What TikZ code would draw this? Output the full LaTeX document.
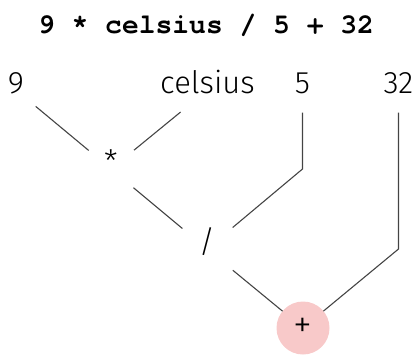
\documentclass[tikz,border=0pt]{standalone}
\usepackage{fontspec}
\setmainfont{Fira Sans Light}
\newfontfamily\titlefont{TeX Gyre Cursor}
\definecolor{edgegray}{HTML}{444444}
\definecolor{pinkfill}{HTML}{F8C9C9}
\begin{document}
\begin{tikzpicture}[x=1pt,y=-1pt,
  lbl/.style={inner sep=0pt,outer sep=0pt,font=\fontsize{31}{31}\selectfont,text height=0.7em,text depth=0pt,anchor=center},
  edge/.style={draw=edgegray,line width=1.1pt},
  opcircle/.style={circle,fill=pinkfill,minimum size=53pt,inner sep=0pt,outer sep=0pt,font=\fontsize{38}{38}\selectfont}]
\useasboundingbox (0,0) rectangle (417,354);
\node[font=\titlefont\bfseries\fontsize{28}{28}\selectfont,anchor=base] (title) at (206,33) {9 * celsius / 5 + 32};
\node[lbl] (n9) at (16,90) {9};
\node[lbl] (cel) at (207.5,90) {celsius};
\node[lbl] (n5) at (302.5,90) {5};
\node[lbl] (n32) at (398.5,90) {32};
\node[lbl] (mul) at (111,169) {*};
\node[lbl] (dvd) at (207,249) {/};
\node[opcircle] (pls) at (303,328) {+};
\coordinate (b5) at (n5.center |- mul.center);
\coordinate (b32) at (n32.center |- dvd.center);
\draw[edge,shorten <=25.6pt,shorten >=29pt] (n9.center) -- (mul.center);
\draw[edge,shorten <=34.8pt,shorten >=29.8pt] (cel.center) -- (mul.center);
\draw[edge,shorten <=29.2pt,shorten >=32pt] (mul.center) -- (dvd.center);
\draw[edge,shorten <=22.5pt,shorten >=33.4pt] (n5.center) -- (b5) -- (dvd.center);
\draw[edge,shorten <=22.5pt] (n32.center) -- (b32) -- (pls);
\draw[edge,shorten <=33.4pt] (dvd.center) -- (pls);
\end{tikzpicture}
\end{document}
